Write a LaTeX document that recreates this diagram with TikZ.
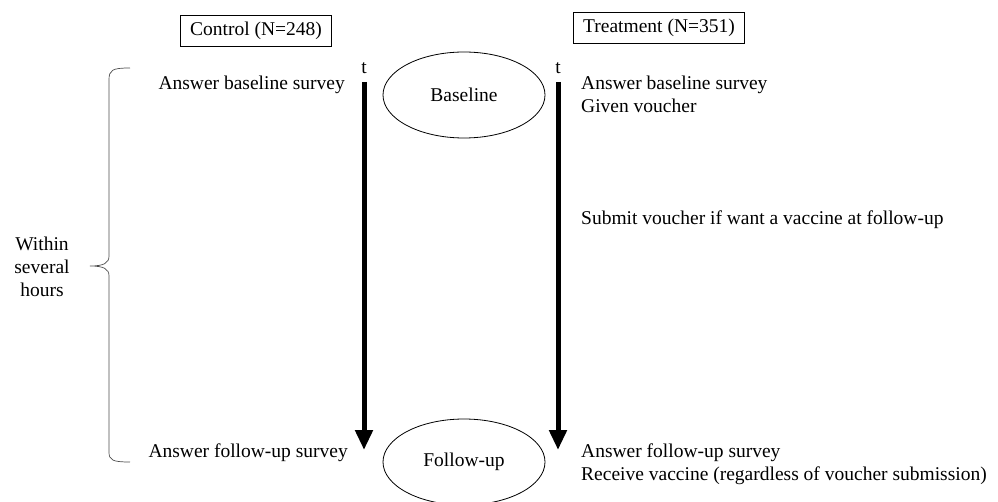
\documentclass[tikz,border=0pt]{standalone}
\usepackage{fontspec}
\setmainfont{Liberation Serif}
\usetikzlibrary{arrows.meta,shapes.geometric}
\begin{document}
\begin{tikzpicture}[x=1pt,y=-1pt,
  every node/.style={font=\fontsize{19.5}{23}\selectfont},
  groupbox/.style={draw,line width=0.8pt,minimum height=31pt,inner xsep=10pt,inner ysep=0pt},
  phase/.style={draw,ellipse,line width=0.8pt,minimum width=162pt,minimum height=86pt,inner sep=0pt},
  lbl/.style={inner sep=0pt,align=left},
  timeline/.style={line width=5pt,-{Triangle[width=17pt,length=20pt]}}]
\useasboundingbox (0,0) rectangle (998,502);
\node[groupbox] (ctrl) at (256,30.5) {Control (N=248)};
\node[groupbox] (treat) at (659,28) {Treatment (N=351)};
\node[phase] (base) at (464,95) {Baseline};
\node[phase] (fol) at (464,462) {Follow-up};
\coordinate (ltop) at (364,82);
\coordinate (lbot) at (364,450);
\coordinate (rtop) at (558,82);
\coordinate (rbot) at (558,450);
\draw[timeline] (ltop) -- (lbot);
\draw[timeline] (rtop) -- (rbot);
\node[lbl] (tl) at (364,68) {t};
\node[lbl] (tr) at (558,68) {t};
\node[lbl,anchor=east] (cb) at (345,85) {Answer baseline survey};
\node[lbl,anchor=east] (cf) at (348,453) {Answer follow-up survey};
\node[lbl,anchor=north west] (tb) at (581,76) {Answer baseline survey\\Given voucher};
\node[lbl,anchor=west] (ts) at (581,220) {Submit voucher if want a vaccine at follow-up};
\node[lbl,anchor=north west] (tf) at (581,444) {Answer follow-up survey\\Receive vaccine (regardless of voucher submission)};
\node[lbl,align=center] (within) at (42,267) {Within\\several\\hours};
\coordinate (btop) at (130,68);
\coordinate (bmid) at (90,266);
\coordinate (bbot) at (130,462);
\draw[line width=0.7pt,black!70] (btop) .. controls (112,68) and (109,70) .. (109,80)
  -- (109,256) .. controls (109,263) and (104,266) .. (bmid)
  .. controls (104,266) and (109,269) .. (109,276)
  -- (109,452) .. controls (109,460) and (112,462) .. (bbot);
\end{tikzpicture}
\end{document}
